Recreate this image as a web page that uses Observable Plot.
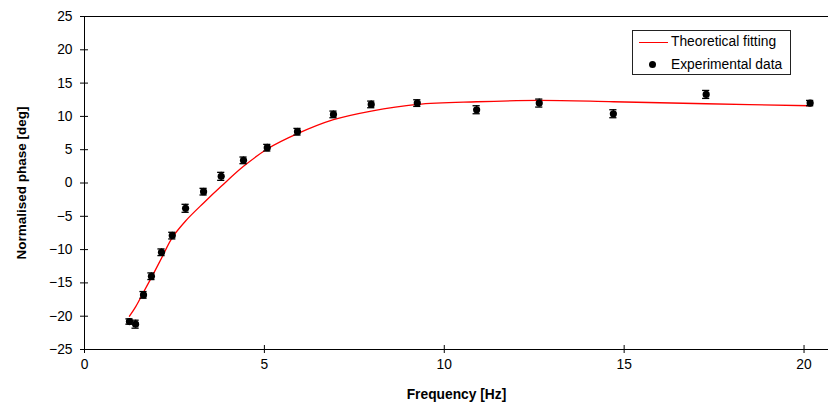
<!DOCTYPE html>
<html><head><meta charset="utf-8">
<script src="https://cdn.jsdelivr.net/npm/d3@7"></script>
<script src="https://cdn.jsdelivr.net/npm/@observablehq/plot@0.6"></script>
<style>
body{margin:0;background:#fff;}
#wrap{position:relative;width:828px;height:407px;font-family:"Liberation Sans",Arial,sans-serif;color:#000;}
.legend{position:absolute;left:632px;top:30px;width:157px;height:43px;border:1px solid #222;background:#fff;font-size:13.8px;}
.legend .row{position:absolute;left:0;height:16px;line-height:16px;}
.legend .sw-line{position:absolute;left:6px;width:29px;height:0;border-top:1.3px solid #ff0000;top:8px;}
.legend .sw-dot{position:absolute;left:16px;top:4px;width:7px;height:7px;border-radius:50%;background:#000;}
.legend .lab{position:absolute;left:38px;top:0;white-space:nowrap;}
</style>
</head><body>
<div id="wrap"></div>
<script>
const freq     = [1.25, 1.42, 1.64, 1.86, 2.14, 2.44, 2.81, 3.31, 3.80, 4.42, 5.08, 5.92, 6.92, 7.97, 9.25, 10.90, 12.64, 14.70, 17.28, 20.17];
const phase    = [-20.8, -21.2, -16.8, -14.0, -10.4, -7.9, -3.8, -1.3, 1.0, 3.4, 5.3, 7.7, 10.3, 11.8, 12.0, 11.0, 12.0, 10.4, 13.3, 12.0];
const phaseErr = [0.4, 0.6, 0.5, 0.5, 0.5, 0.5, 0.6, 0.5, 0.6, 0.5, 0.5, 0.5, 0.5, 0.5, 0.5, 0.6, 0.6, 0.6, 0.6, 0.4];
const fitPhase = [-20.0, -18.6, -16.4, -14.2, -11.3, -8.2, -5.7, -3.0, -0.5, 2.5, 5.1, 7.4, 9.5, 10.8, 11.8, 12.2, 12.4, 12.2, 11.9, 11.6];
const xTicks = [0, 5, 10, 15, 20];
const yTicks = [-25, -20, -15, -10, -5, 0, 5, 10, 15, 20, 25];
const xTitle = "Frequency [Hz]";
const yTitle = "Normalised phase [deg]";
const legendLabels = ["Theoretical fitting", "Experimental data"];

const data = freq.map((f, i) => ({f, v: phase[i], e: phaseErr[i]}));
const fit = freq.map((f, i) => ({f, v: fitPhase[i]}));

const chart = Plot.plot({
  width: 828, height: 407,
  marginLeft: 84, marginRight: 0, marginTop: 16, marginBottom: 58,
  style: {fontFamily: "'Liberation Sans', Arial, sans-serif", fontSize: "13.8px", color: "#000", background: "#fff", overflow: "visible"},
  x: {domain: [0, 20.68]},
  y: {domain: [-25, 25]},
  marks: [
    Plot.ruleY([25], {stroke: "#000"}),
    Plot.ruleY([-25], {stroke: "#000"}),
    Plot.ruleX([0], {stroke: "#000"}),
    Plot.axisX(xTicks, {tickSize: 8, dy: -4, fill: "none", tickFormat: () => "", label: null}),
    Plot.axisX(xTicks, {tickSize: 0, tickPadding: 10, label: null}),
    Plot.axisY(yTicks, {tickSize: 8, dx: 4, fill: "none", tickFormat: () => "", label: null}),
    Plot.axisY(yTicks, {tickSize: 0, tickPadding: 12, label: null}),
    Plot.line(fit, {x: "f", y: "v", stroke: "#ff0000", strokeWidth: 1.3, curve: "catmull-rom"}),
    Plot.ruleX(data, {x: "f", y1: d => d.v - d.e, y2: d => d.v + d.e, stroke: "#000", strokeWidth: 1.2}),
    Plot.ruleY(data, {y: d => d.v - d.e, x1: d => d.f - 0.1, x2: d => d.f + 0.1, stroke: "#000", strokeWidth: 1.3}),
    Plot.ruleY(data, {y: d => d.v + d.e, x1: d => d.f - 0.1, x2: d => d.f + 0.1, stroke: "#000", strokeWidth: 1.3}),
    Plot.dot(data, {x: "f", y: "v", r: 3.6, fill: "#000", stroke: "none"}),
    Plot.text([xTitle], {text: d => d, frameAnchor: "bottom", dy: 45, lineAnchor: "middle", textAnchor: "middle", fontWeight: "bold", fontSize: 13.8}),
    Plot.text([yTitle], {text: d => d, frameAnchor: "left", dx: -63, rotate: -90, textAnchor: "middle", lineAnchor: "middle", fontWeight: "bold", fontSize: 13.5})
  ]
});

const wrap = document.getElementById("wrap");
wrap.appendChild(chart);
const lg = document.createElement("div");
lg.className = "legend";
lg.innerHTML =
  `<div class="row" style="top:3px;width:100%"><div class="sw-line"></div><div class="lab">${legendLabels[0]}</div></div>` +
  `<div class="row" style="top:26px;width:100%"><div class="sw-dot"></div><div class="lab">${legendLabels[1]}</div></div>`;
wrap.appendChild(lg);
</script>
</body></html>
